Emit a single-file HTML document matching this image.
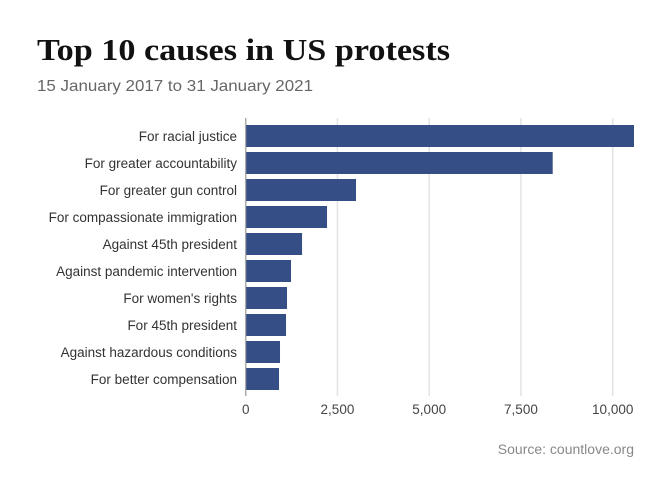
<!DOCTYPE html>
<html><head><meta charset="utf-8"><style>
body{margin:0;background:#fff;font-family:"Liberation Sans",sans-serif}
svg{display:block}
</style></head><body>
<svg width="672" height="480">
<text x="37" y="60" font-family="Liberation Serif,serif" font-weight="bold" font-size="31" fill="#111" textLength="413" lengthAdjust="spacingAndGlyphs">Top 10 causes in US protests</text>
<text x="37" y="91" font-size="16" fill="#666" textLength="276" lengthAdjust="spacingAndGlyphs">15 January 2017 to 31 January 2021</text>
<g id="grid"></g><g id="bars"></g><g id="ylabels"></g><g id="xticks"></g>
<text x="634" y="454" text-anchor="end" font-size="14" fill="#888">Source: countlove.org</text>
</svg>
<script>
const categories=["For racial justice","For greater accountability","For greater gun control","For compassionate immigration","Against 45th president","Against pandemic intervention","For women's rights","For 45th president","Against hazardous conditions","For better compensation"];
const values=[10580,8365,3006,2216,1535,1235,1126,1099,935,908];
const ticks=[0,2500,5000,7500,10000];
const tickLabels=["0","2,500","5,000","7,500","10,000"];
const NS="http://www.w3.org/2000/svg";
const x=v=>245.7+v*0.03670;
const y=i=>125+i*27;
function mk(t,a,p){const e=document.createElementNS(NS,t);for(const k in a)e.setAttribute(k,a[k]);p.appendChild(e);return e;}
const g=document.getElementById('grid'),b=document.getElementById('bars'),yl=document.getElementById('ylabels'),xt=document.getElementById('xticks');
ticks.forEach((t,i)=>{
 const l=mk('line',{x1:x(t),x2:x(t),y1:118,y2:396,stroke:i==0?'#aaa':'#e3e3e3','stroke-width':1.5},g);
 
 
 const tx=mk('text',{x:x(t),y:414,'text-anchor':'middle','font-size':13.5,fill:'#444'},xt);
 tx.textContent=tickLabels[i];
 
 
});
categories.forEach((c,i)=>{
 const r=mk('rect',{x:x(0)+0.5,y:y(i),width:x(values[i])-x(0)-0.5,height:22,fill:'#354f86'},b);
 
 
 const t=mk('text',{x:237,y:y(i)+16,'text-anchor':'end','font-size':13.5,fill:'#333'},yl);
 t.textContent=c;
 
 
});
</script>
</body></html>
